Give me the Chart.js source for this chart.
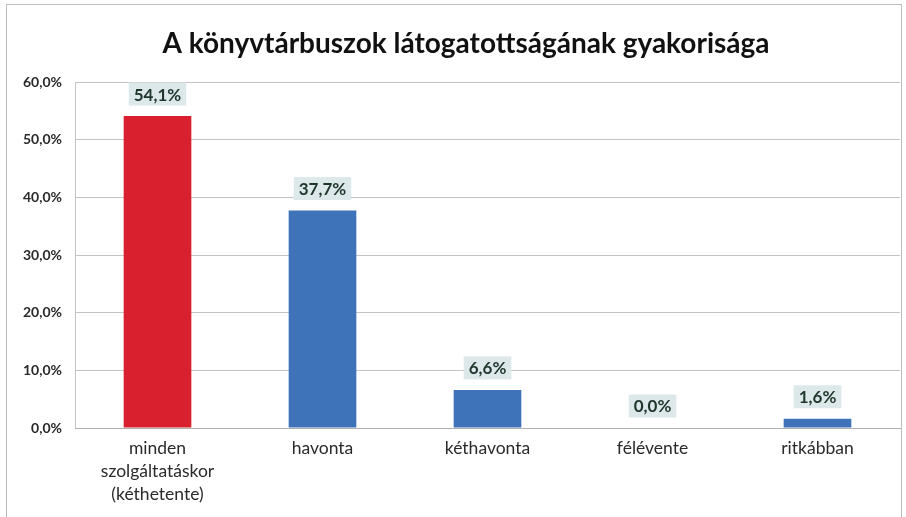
<!DOCTYPE html>
<html><head><meta charset="utf-8">
<script src="https://cdn.jsdelivr.net/npm/chart.js@4"></script>
<style>
html,body{margin:0;padding:0;background:#fff;}
#wrap{position:relative;width:906px;height:517px;}
#frame{position:absolute;left:6px;top:4px;width:896px;height:520px;border:1px solid #bdbdbd;box-sizing:border-box;pointer-events:none;}
</style></head><body>
<div id="wrap"><canvas id="c" width="906" height="517"></canvas><div id="frame"></div></div>
<script>
const titleText = 'A könyvtárbuszok látogatottságának gyakorisága';
const categories = [['minden','szolgáltatáskor','(kéthetente)'], 'havonta', 'kéthavonta', 'félévente', 'ritkábban'];
const values = [54.1, 37.7, 6.6, 0.0, 1.6];
const barColors = ['#d8202f', '#3f73b9', '#3f73b9', '#3f73b9', '#3f73b9'];
const yTicks = [0, 10, 20, 30, 40, 50, 60];

const fmt = v => v.toFixed(1).replace('.', ',') + '%';

const titlePlugin = {
  id: 'customTitle',
  afterDraw(chart) {
    const ctx = chart.ctx;
    ctx.save();
    ctx.font = 'bold 28px Lato';
    ctx.fillStyle = '#111';
    ctx.textAlign = 'center';
    ctx.textBaseline = 'middle';
    ctx.fillText(titleText, 466, 44);
    ctx.restore();
  }
};

const labelPlugin = {
  id: 'barLabels',
  afterDatasetsDraw(chart) {
    const ctx = chart.ctx;
    const meta = chart.getDatasetMeta(0);
    ctx.save();
    ctx.font = 'bold 17px Lato';
    ctx.textAlign = 'center';
    ctx.textBaseline = 'middle';
    meta.data.forEach((bar, i) => {
      const t = fmt(values[i]);
      const w = ctx.measureText(t).width + 10;
      const h = 23;
      const cy = bar.y - 22;
      ctx.fillStyle = '#dde8ea';
      ctx.fillRect(bar.x - w / 2, cy - h / 2, w, h);
      ctx.fillStyle = '#1f362d';
      ctx.fillText(t, bar.x, cy + 1);
    });
    ctx.restore();
  }
};

new Chart(document.getElementById('c'), {
  type: 'bar',
  data: {
    labels: categories,
    datasets: [{ data: values, backgroundColor: barColors, barPercentage: 0.82, categoryPercentage: 0.5 }]
  },
  options: {
    responsive: false,
    animation: false,
    devicePixelRatio: 1,
    layout: { padding: { left: 0, right: 6, top: 82, bottom: 0 } },
    plugins: {
      legend: { display: false },
      tooltip: { enabled: false },
      title: { display: false }
    },
    scales: {
      x: {
        grid: { display: false },
        border: { color: '#b0b0b0' },
        ticks: { color: '#2a2a2a', font: { family: 'Lato', size: 17.5, lineHeight: 1.3 }, maxRotation: 0, autoSkip: false, padding: 1 },
        afterFit(s) { s.height = 89; }
      },
      y: {
        min: 0, max: 60,
        afterBuildTicks(s) { s.ticks = yTicks.map(v => ({ value: v })); },
        grid: { color: '#c4c4c4', drawTicks: false },
        border: { color: '#c4c4c4' },
        ticks: { color: '#2a2a2a', font: { family: 'Lato', size: 14, weight: 'bold' }, padding: 13, callback: v => fmt(v) },
        afterFit(s) { s.width = 75; }
      }
    }
  },
  plugins: [labelPlugin, titlePlugin]
});
</script>
</body></html>
